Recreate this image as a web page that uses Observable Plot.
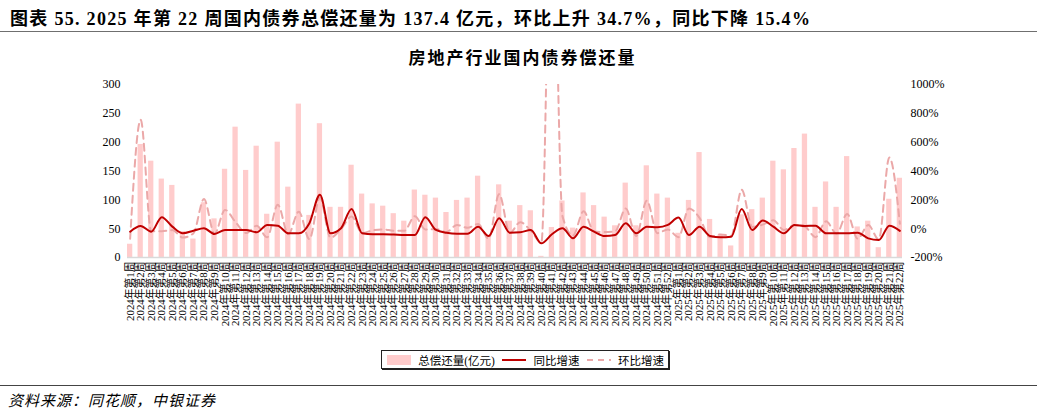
<!DOCTYPE html>
<html><head><meta charset="utf-8">
<script src="https://cdn.jsdelivr.net/npm/d3@7"></script>
<script src="https://cdn.jsdelivr.net/npm/@observablehq/plot@0.6"></script>
<style>
body{margin:0;width:1045px;height:413px;position:relative;background:#fff;font-family:"Liberation Serif","Noto Sans CJK SC",serif;overflow:hidden;color:#000}
#title{position:absolute;left:10px;top:4px;font-size:18px;letter-spacing:1.3px;font-weight:bold;white-space:nowrap}
#rule1{position:absolute;left:0;top:31px;width:1037px;height:0;border-top:1.5px solid #6f6f6f}
#ctitle{position:absolute;left:0;width:1045px;top:44px;text-align:center;font-size:17px;font-weight:bold;letter-spacing:2px}
#chart{position:absolute;left:0;top:70px}
#legend{position:absolute;left:381px;top:350px;width:278px;height:17px;padding:0 4px;border:1px solid #222;box-shadow:1px 1px 0 #222;display:flex;align-items:center;justify-content:space-between;font-size:11.5px;white-space:nowrap}
#legend svg{display:block}
#rule2{position:absolute;left:0;top:385px;width:1037px;height:0;border-top:1.5px solid #444}
#source{position:absolute;left:8px;top:389px;font-size:15px;letter-spacing:1px;font-style:italic;white-space:nowrap}
</style></head>
<body>
<div id="title">图表 55. 2025 年第 22 周国内债券总偿还量为 137.4 亿元，环比上升 34.7%，同比下降 15.4%</div>
<div id="rule1"></div>
<div id="ctitle">房地产行业国内债券偿还量</div>
<div id="chart"></div>
<div id="legend"></div>
<div id="rule2"></div>
<div id="source">资料来源：同花顺，中银证券</div>
<script>
// Week categories
const weeks2024 = d3.range(1, 53).map(i => `2024年第${i}周`);
const weeks2025 = d3.range(1, 23).map(i => `2025年第${i}周`);
const weeks = weeks2024.concat(weeks2025);

// 总偿还量 (亿元)
const repay = [
  23,196,167,136,125,45,32,95,67,153,226,151,193,75,200,122,266,73,232,87,
  87,160,110,93,89,76,63,117,108,103,78,99,103,141,38,126,63,90,81,2,
  52,98,51,112,90,70,55,129,55,159,110,103,
  42,99,182,66,39,20,74,83,103,167,152,189,214,87,131,87,175,53,63,17,101,137.4
];
// 同比增速 (%)
const yoy = [
  -21,19,-21,80,14,-32,-14,3,-37,-9,-9,-9,-25,26,21,-32,-32,38,236,-32,
  3,136,-32,-39,-39,-41,-44,-44,80,-9,-28,-35,-35,14,-51,73,-28,-25,-9,-102,
  -39,3,-67,14,-21,-51,-44,38,-32,14,10,26,
  77,-44,14,-51,-60,-56,136,-9,56,14,-32,26,19,21,-32,-32,-32,-28,-67,-79,21,-15.4
];
// 环比增速 (%)
const mom = [
  -70,755,-18,-18,-10,-62,-33,205,-35,130,45,-30,20,-60,166,-38,118,-73,215,-62,
  -3,84,-30,-12,-5,-14,-15,86,-5,-3,-23,26,6,32,-70,240,-30,45,-15,-97,
  2500,87,-48,120,-20,-23,-18,140,-50,195,-31,-6,
  -59,140,75,-60,-40,-49,270,12,28,58,-9,24,13,-59,51,-34,102,-70,25,-75,494,34.7
];
const leftTicks = [0, 50, 100, 150, 200, 250, 300];
const rightTicks = [-200, 0, 200, 400, 600, 800, 1000];

const data = weeks.map((w, i) => ({w, v: repay[i], yoy: yoy[i], mom: mom[i]}));
// map right-axis percent onto the left-axis scale: -200% -> 0, 1000% -> 300
const toLeft = p => (p + 200) / 4;
const fromLeft = v => v * 4 - 200;

const font = '"Liberation Serif","Noto Sans CJK SC",serif';
const chart = Plot.plot({
  width: 1045, height: 270,
  marginLeft: 127, marginRight: 143, marginTop: 14, marginBottom: 83,
  style: {fontFamily: font, fontSize: "12px", background: "transparent", color: "#000"},
  x: {domain: weeks, paddingInner: 0.5, paddingOuter: 0, label: null},
  y: {domain: [0, 300], label: null},
  marks: [
    Plot.barY(data, {x: "w", y: "v", fill: "#FFCCCC"}),
    Plot.ruleY([0], {stroke: "#D9D9D9", strokeWidth: 1.5}),
    Plot.lineY(data, {x: "w", y: d => toLeft(d.mom), stroke: "#EBA8A8", strokeWidth: 2, strokeDasharray: "7,5", curve: "monotone-x", clip: true}),
    Plot.lineY(data, {x: "w", y: d => toLeft(d.yoy), stroke: "#C00000", strokeWidth: 2, curve: "monotone-x", clip: true}),
    Plot.axisX({tickRotate: -90, tickSize: 0, tickPadding: 4, fontSize: 10.8, label: null}),
    Plot.axisY({anchor: "left", ticks: leftTicks, tickSize: 0, tickPadding: 7, label: null}),
    Plot.axisY({anchor: "right", ticks: rightTicks.map(toLeft), tickSize: 0, tickPadding: 8, tickFormat: d => fromLeft(d) + "%", label: null})
  ]
});
document.getElementById("chart").appendChild(chart);

// legend
const legendItems = [
  {label: "总偿还量(亿元)", type: "bar"},
  {label: "同比增速", type: "line"},
  {label: "环比增速", type: "dash"}
];
const lg = document.getElementById("legend");
legendItems.forEach((it) => {
  const s = d3.create("svg").attr("width", 26).attr("height", 12);
  if (it.type === "bar") s.append("rect").attr("x", 1).attr("y", 1).attr("width", 24).attr("height", 10).attr("fill", "#FFCCCC");
  else s.append("line").attr("x1", 1).attr("x2", 25).attr("y1", 6).attr("y2", 6)
    .attr("stroke", it.type === "line" ? "#C00000" : "#EBA8A8").attr("stroke-width", 2)
    .attr("stroke-dasharray", it.type === "dash" ? "6,5" : null);
  lg.appendChild(s.node());
  const sp = document.createElement("span");
  sp.textContent = it.label;
  lg.appendChild(sp);
});
</script>
</body></html>
